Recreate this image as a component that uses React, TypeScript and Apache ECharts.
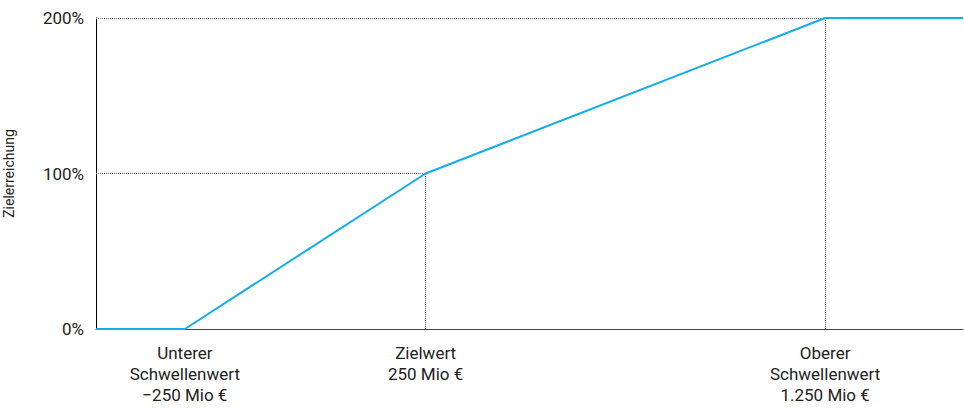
import React, { useEffect, useRef } from "react";
import * as echarts from "echarts";

// Schematic positions along the x axis (0..100 scale of the plot width)
const xPositions = [0, 10.25, 38.02, 84.1, 100];
// Target achievement in percent at each position
const achievement = [0, 0, 100, 200, 200];
// Labelled thresholds on the x axis
const thresholdPositions = [10.25, 38.02, 84.1];
const thresholdLabels = [
  "Unterer\nSchwellenwert\n\u2212250 Mio \u20ac",
  "Zielwert\n250 Mio \u20ac",
  "Oberer\nSchwellenwert\n1.250 Mio \u20ac",
];
const yTicks = [0, 100, 200];

const FONT = "Roboto, 'Liberation Sans', Arial, sans-serif";

export default function App() {
  const ref = useRef<HTMLDivElement>(null);
  useEffect(() => {
    if (!ref.current) return;
    const chart = echarts.init(ref.current, undefined, { renderer: "svg" });
    const data = xPositions.map((x, i) => [x, achievement[i]]);
    const guide = { type: "dotted", color: "#666", width: 1 };
    const markData: any[] = [];
    // horizontal and vertical guides for the target and the upper threshold
    [2, 3].forEach((i) => {
      markData.push([
        { coord: [0, achievement[i]] },
        { coord: [xPositions[i], achievement[i]] },
      ]);
      markData.push([
        { coord: [xPositions[i], 0] },
        { coord: [xPositions[i], achievement[i]] },
      ]);
    });
    chart.setOption({
      animation: false,
      textStyle: { fontFamily: FONT },
      grid: {
        left: 96,
        right: 1,
        top: 18,
        bottom: 79,
        containLabel: false,
        outerBoundsMode: "none",
      },
      xAxis: {
        type: "value",
        min: 0,
        max: 100,
        axisLine: { show: true, lineStyle: { color: "#444", width: 1 } },
        axisTick: { show: false },
        splitLine: { show: false },
        axisLabel: {
          customValues: thresholdPositions,
          formatter: (v: number) => {
            const idx = thresholdPositions.findIndex((p) => Math.abs(p - v) < 1e-6);
            return idx >= 0 ? thresholdLabels[idx] : "";
          },
          fontSize: 17,
          lineHeight: 21,
          color: "#222",
          margin: 13,
          fontFamily: FONT,
        },
      },
      yAxis: {
        type: "value",
        min: 0,
        max: 200,
        interval: 100,
        name: "Zielerreichung",
        nameLocation: "middle",
        nameRotate: 90,
        nameGap: 80,
        nameTextStyle: { fontSize: 14, color: "#222", fontFamily: FONT },
        axisLine: { show: true, lineStyle: { color: "#000", width: 1 } },
        axisTick: { show: false },
        splitLine: { show: false },
        axisLabel: {
          customValues: yTicks,
          formatter: "{value}%",
          fontSize: 17,
          color: "#222",
          margin: 12,
          fontFamily: FONT,
        },
      },
      series: [
        {
          type: "line",
          data,
          symbol: "none",
          lineStyle: { color: "#12aee8", width: 2 },
          z: 3,
          markLine: {
            silent: true,
            symbol: ["none", "none"],
            label: { show: false },
            lineStyle: guide,
            data: markData,
            z: 1,
          },
        },
      ],
    });
    return () => chart.dispose();
  }, []);
  return (
    <div
      ref={ref}
      style={{ position: "fixed", left: 0, top: 0, width: 964, height: 408, background: "#fff" }}
    />
  );
}
